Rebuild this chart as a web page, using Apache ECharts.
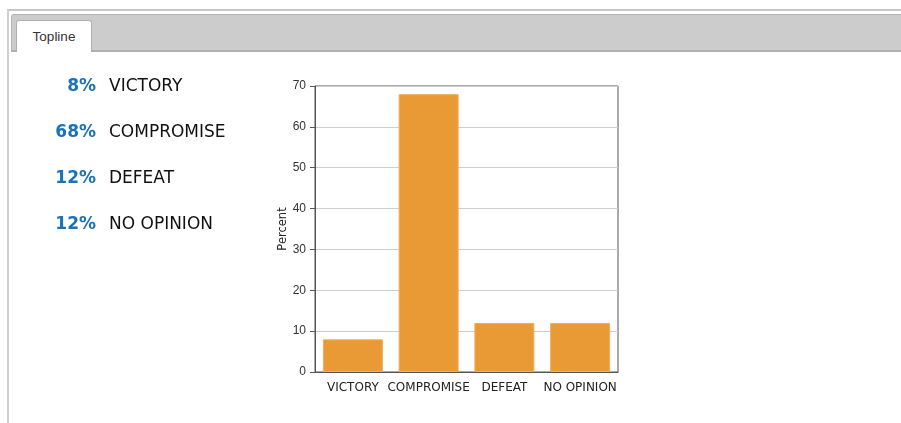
<!DOCTYPE html>
<html>
<head>
<meta charset="utf-8">
<script src="https://cdn.jsdelivr.net/npm/echarts@6/dist/echarts.min.js"></script>
<style>
html,body{margin:0;padding:0;background:#fff;width:901px;height:423px;overflow:hidden;font-family:"Liberation Sans",Arial,sans-serif;}
#frame{position:absolute;left:7px;top:9px;width:900px;height:420px;border-left:2px solid #d0d0d0;border-top:2px solid #c8c8c8;box-sizing:border-box;}
#tabbar{position:absolute;left:11px;top:14px;width:895px;height:38px;background:#cccccc;border:1px solid #b4b4b4;border-bottom:2px solid #b0b0b0;border-radius:3px 0 0 0;box-sizing:border-box;}
#tab{position:absolute;left:16px;top:20px;width:76px;height:32px;background:#fff;border:1px solid #b0b0b0;border-bottom:none;border-radius:3px 3px 0 0;box-sizing:border-box;font-size:13.5px;color:#333;text-align:center;line-height:31px;}
#chart{position:absolute;left:0;top:0;width:901px;height:423px;}
</style>
</head>
<body>
<div id="frame"></div>
<div id="tabbar"></div>
<div id="tab">Topline</div>
<div id="chart"></div>
<script>
var categories = ["VICTORY", "COMPROMISE", "DEFEAT", "NO OPINION"];
var values = [8, 68, 12, 12];
var yTicks = [0, 10, 20, 30, 40, 50, 60, 70];

var chart = echarts.init(document.getElementById('chart'), null, {renderer: 'canvas'});

var graphics = [];
for (var i = 0; i < categories.length; i++) {
  graphics.push({
    type: 'text', right: 901 - 96, top: 78 + i * 46,
    style: {text: values[i] + '%', font: 'bold 17px "DejaVu Sans", Verdana, sans-serif', fill: '#1a73b8', textAlign: 'right'}
  });
  graphics.push({
    type: 'text', left: 109, top: 78 + i * 46,
    style: {text: categories[i], font: '17px "DejaVu Sans", Verdana, sans-serif', fill: '#111'}
  });
}

chart.setOption({
  animation: false,
  backgroundColor: 'transparent',
  graphic: graphics,
  grid: {left: 315, right: 283, top: 86, bottom: 51, show: true, borderColor: '#555', borderWidth: 1, backgroundColor: 'transparent'},
  xAxis: {
    type: 'category', data: categories,
    axisLine: {lineStyle: {color: '#555', width: 1}},
    axisTick: {alignWithLabel: true, length: 5, lineStyle: {color: '#555'}},
    axisLabel: {color: '#222', fontSize: 12, fontFamily: '"DejaVu Sans", Verdana, sans-serif', margin: 10, interval: 0}
  },
  yAxis: {
    type: 'value', min: yTicks[0], max: yTicks[yTicks.length - 1], interval: 10,
    name: 'Percent', nameLocation: 'middle', nameRotate: 90, nameGap: 25,
    nameTextStyle: {color: '#222', fontSize: 11.5, fontFamily: '"DejaVu Sans", Verdana, sans-serif'},
    axisLine: {show: true, lineStyle: {color: '#555', width: 1}},
    axisTick: {show: true, length: 5, lineStyle: {color: '#555'}},
    axisLabel: {color: '#333', fontSize: 12, fontFamily: '"Liberation Sans", Arial, sans-serif', margin: 9},
    splitLine: {lineStyle: {color: '#cccccc', width: 1}}
  },
  series: [{
    type: 'bar', data: values, barWidth: 60,
    itemStyle: {color: '#E99A34', borderColor: '#F0AE5C', borderWidth: 1}
  }]
});
</script>
</body>
</html>
